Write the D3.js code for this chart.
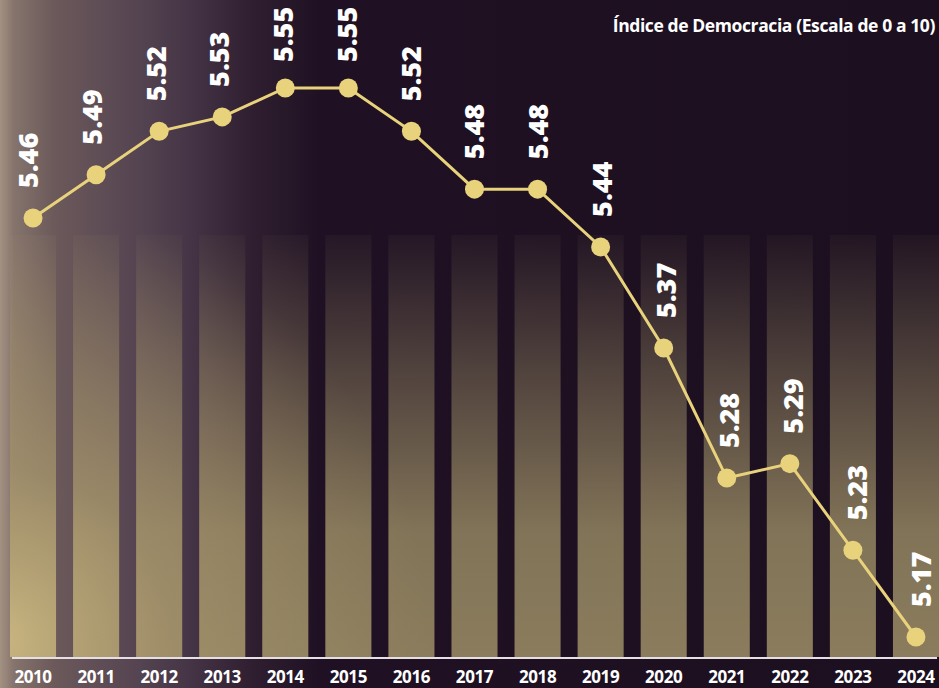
<!DOCTYPE html>
<html>
<head>
<meta charset="utf-8">
<script src="https://cdn.jsdelivr.net/npm/d3@7"></script>
<style>
  html, body { margin: 0; padding: 0; background: #1c0f1f; }
  svg { display: block; }
</style>
</head>
<body>
<svg id="chart" width="939" height="688"></svg>
<script>
// DATA
const YEARS = ['2010', '2011', '2012', '2013', '2014', '2015', '2016', '2017', '2018', '2019', '2020', '2021', '2022', '2023', '2024'];
const INDEX_VALUES = [5.46, 5.49, 5.52, 5.53, 5.55, 5.55, 5.52, 5.48, 5.48, 5.44, 5.37, 5.28, 5.29, 5.23, 5.17];
const TITLE = 'Índice de Democracia (Escala de 0 a 10)';

// LAYOUT
const WIDTH = 939;
const HEIGHT = 688;
const BAR_TOP = 235;
const BASE_Y = 657;
const LINE_COLOR = '#e9d27c';
const LABEL_GAP = 30;   // distance between a dot and the start of its value label
const LABEL_MIN_Y = 62; // labels never start higher than this

let svg = d3.select('#chart');
let defs = svg.append('defs');

// horizontal background: smoky light on the left, dark purple on the right
let bgGrad = defs.append('linearGradient').attr('id', 'bgGrad')
	.attr('x1', 0).attr('x2', 1).attr('y1', 0).attr('y2', 0);
[['0%', '#a39282'], ['1.5%', '#85736c'], ['6%', '#6a585a'], ['14%', '#574652'],
 ['20%', '#453546'], ['27%', '#2e1e30'], ['34%', '#1f1123'], ['100%', '#1c0f1f']]
	.forEach(s => bgGrad.append('stop').attr('offset', s[0]).attr('stop-color', s[1]));

// vertical gradient for the bars
let barGrad = defs.append('linearGradient').attr('id', 'barGrad')
	.attr('gradientUnits', 'userSpaceOnUse')
	.attr('x1', 0).attr('x2', 0).attr('y1', BAR_TOP).attr('y2', BASE_Y);
barGrad.append('stop').attr('offset', '0%').attr('stop-color', '#8a7c5c').attr('stop-opacity', 0.06);
barGrad.append('stop').attr('offset', '35%').attr('stop-color', '#8a7c5c').attr('stop-opacity', 0.5);
barGrad.append('stop').attr('offset', '70%').attr('stop-color', '#8a7c5c').attr('stop-opacity', 0.92);
barGrad.append('stop').attr('offset', '100%').attr('stop-color', '#8a7c5c').attr('stop-opacity', 1);

// golden glow on the lower left bars
let glow = defs.append('radialGradient').attr('id', 'glow')
	.attr('gradientUnits', 'userSpaceOnUse')
	.attr('cx', 0).attr('cy', 640).attr('r', 430);
glow.append('stop').attr('offset', '0%').attr('stop-color', '#f2dc98').attr('stop-opacity', 0.6);
glow.append('stop').attr('offset', '40%').attr('stop-color', '#d8c08a').attr('stop-opacity', 0.25);
glow.append('stop').attr('offset', '100%').attr('stop-color', '#d8c08a').attr('stop-opacity', 0);

svg.append('rect').attr('width', WIDTH).attr('height', HEIGHT).attr('fill', 'url(#bgGrad)');

// SCALES
let x = d3.scaleBand().domain(YEARS).range([1.5, 947.5]).paddingInner(0.27).paddingOuter(0.135);
let y = d3.scaleLinear().domain([5.17, 5.55]).range([637, 88]);
let cx = d => x(d) + x.bandwidth() / 2;

// bars
let clip = defs.append('clipPath').attr('id', 'barClip');
clip.selectAll('rect').data(YEARS).join('rect')
	.attr('x', d => x(d)).attr('y', BAR_TOP)
	.attr('width', x.bandwidth()).attr('height', BASE_Y - BAR_TOP);

svg.append('g').selectAll('rect').data(YEARS).join('rect')
	.attr('x', d => x(d)).attr('y', BAR_TOP)
	.attr('width', x.bandwidth()).attr('height', BASE_Y - BAR_TOP)
	.attr('fill', 'url(#barGrad)');

svg.append('rect').attr('width', WIDTH).attr('height', HEIGHT)
	.attr('clip-path', 'url(#barClip)').attr('fill', 'url(#glow)');

// base line
svg.append('line')
	.attr('x1', 12).attr('x2', 937).attr('y1', BASE_Y + 1).attr('y2', BASE_Y + 1)
	.attr('stroke', '#e6e0e4').attr('stroke-width', 2);

// year labels
svg.append('g').selectAll('text').data(YEARS).join('text')
	.attr('x', d => cx(d)).attr('y', 683)
	.attr('text-anchor', 'middle')
	.attr('font-family', 'Open Sans, sans-serif').attr('font-weight', 700)
	.attr('font-size', 17).attr('letter-spacing', -0.4)
	.attr('fill', '#ffffff')
	.text(d => d);

// line + dots
let points = YEARS.map((yr, i) => [cx(yr), y(INDEX_VALUES[i])]);
svg.append('path')
	.attr('d', d3.line()(points))
	.attr('fill', 'none').attr('stroke', LINE_COLOR).attr('stroke-width', 3);

svg.append('g').selectAll('circle').data(points).join('circle')
	.attr('cx', d => d[0]).attr('cy', d => d[1]).attr('r', 9.5)
	.attr('fill', LINE_COLOR);

// value labels, rotated; they drift a little to the right across the chart
svg.append('g').selectAll('text').data(YEARS).join('text')
	.attr('transform', (d, i) => {
		let ly = Math.max(y(INDEX_VALUES[i]) - LABEL_GAP, LABEL_MIN_Y);
		return `translate(${cx(d) + 5 + i * 0.7},${ly}) rotate(-90)`;
	})
	.attr('font-family', 'Open Sans, sans-serif').attr('font-weight', 800)
	.attr('font-size', 27)
	.attr('fill', '#ffffff')
	.text((d, i) => d3.format('.2f')(INDEX_VALUES[i]));

// title
svg.append('text')
	.attr('x', 935).attr('y', 32)
	.attr('text-anchor', 'end')
	.attr('font-family', 'Open Sans, sans-serif').attr('font-weight', 700)
	.attr('font-size', 17.5).attr('letter-spacing', -0.4)
	.attr('fill', '#ffffff')
	.text(TITLE);
</script>
</body>
</html>
